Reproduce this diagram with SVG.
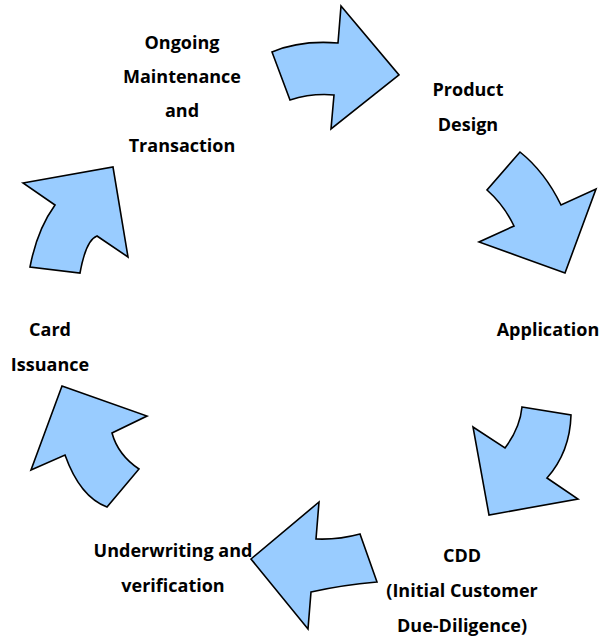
<svg xmlns="http://www.w3.org/2000/svg" width="601" height="638" viewBox="0 0 601 638">
  <style>
    .arrow { fill: #99CCFF; stroke: #000; stroke-width: 1.6; stroke-linejoin: miter; }
    .label { font-family: "Open Sans", "Liberation Sans", sans-serif; font-weight: bold; font-size: 18px; fill: #000; text-anchor: middle; }
  </style>
  <rect width="601" height="638" fill="#fff"/>

  <!-- curved cycle arrows -->
  <g id="connectors">
    <path class="arrow" d="M272,52 Q300,40 338,43 L341,6 L399,75 L331,129 L334,95 Q312,93 290,100 Z"/>
    <path class="arrow" d="M520,152 Q545,172 561,205 L596,189 L565,273 L479,242 L514,226 Q504,205 487,190 Z"/>
    <path class="arrow" d="M522,407 L571,415 Q570,452 547,478 L578,499 L489,515 L473,427 L505,448 Q520,428 522,407 Z"/>
    <path class="arrow" d="M251,559 L319,502 L316,539 Q338,540 360,534 L377,582 Q342,585 311,592 L308,629 Z"/>
    <path class="arrow" d="M62,386 L147,416 L112,433 Q118,455 139,469 L107,507 Q80,497 65,455 L31,470 Z"/>
    <path class="arrow" d="M23,183 L113,167 L128,257 L97,236 Q86,240 80,273 L30,267 Q37,230 55,205 Z"/>
  </g>

  <g id="ongoing">
    <text class="label" x="182" y="49">Ongoing</text>
    <text class="label" x="182" y="83">Maintenance</text>
    <text class="label" x="182" y="117">and</text>
    <text class="label" x="182" y="152">Transaction</text>
  </g>
  <g id="product-design">
    <text class="label" x="468" y="96">Product</text>
    <text class="label" x="468" y="131">Design</text>
  </g>
  <g id="application">
    <text class="label" x="548" y="336">Application</text>
  </g>
  <g id="cdd">
    <text class="label" x="462" y="562">CDD</text>
    <text class="label" x="462" y="597">(Initial Customer</text>
    <text class="label" x="462" y="632">Due-Diligence)</text>
  </g>
  <g id="underwriting">
    <text class="label" x="173" y="557">Underwriting and</text>
    <text class="label" x="173" y="592">verification</text>
  </g>
  <g id="card-issuance">
    <text class="label" x="50" y="336">Card</text>
    <text class="label" x="50" y="371">Issuance</text>
  </g>
</svg>
